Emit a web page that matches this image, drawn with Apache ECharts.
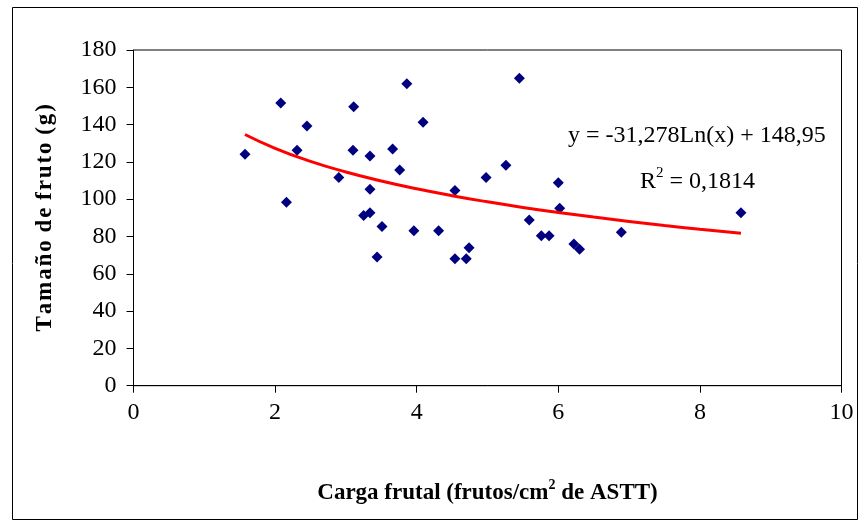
<!DOCTYPE html>
<html>
<head>
<meta charset="utf-8">
<script src="https://cdn.jsdelivr.net/npm/echarts@6/dist/echarts.min.js"></script>
<style>html,body{margin:0;padding:0;background:#fff;}#c{width:861px;height:523px;}</style>
</head>
<body>
<div id="c"></div>
<script>
// Scatter data: fruit load (x) and fruit size (y)
const cargaFrutal = [1.575, 2.08, 2.16, 2.31, 2.45, 2.90, 3.11, 3.10, 3.25, 3.34, 3.34, 3.34, 3.44, 3.51, 3.66, 3.76, 3.86, 3.96, 4.09, 4.31, 4.54, 4.54, 4.70, 4.74, 4.98, 5.26, 5.45, 5.59, 5.76, 5.87, 6.00, 6.02, 6.22, 6.30, 6.89, 8.58];
const tamanoFruto = [124.1, 151.6, 98.3, 126.2, 139.3, 111.7, 149.6, 126.2, 91.2, 92.8, 123.2, 105.3, 69.0, 85.3, 126.9, 115.7, 161.9, 83.1, 141.2, 83.1, 104.6, 68.1, 68.1, 74.0, 111.7, 118.2, 164.8, 88.8, 80.4, 80.4, 108.8, 95.1, 76.0, 73.1, 82.3, 92.8];
// Logarithmic trend line
const trendX = [1.575, 2, 2.5, 3, 3.5, 4, 4.5, 5, 5.5, 6, 6.5, 7, 7.5, 8, 8.58];
const trendY = [134.7, 127.3, 120.3, 114.6, 109.8, 105.6, 101.9, 98.6, 95.6, 92.9, 90.4, 88.1, 85.9, 83.9, 81.7];
const equationText = 'y = -31,278Ln(x) + 148,95';
const r2Label = 'R';
const r2Value = ' = 0,1814';
const xTitleA = 'Carga frutal (frutos/cm';
const xTitleB = ' de ASTT)';
const yTitle = 'T\u200Aa\u200Am\u200Aa\u200Añ\u200Ao\u200A d\u200Ae\u200A f\u200Ar\u200Au\u200At\u200Ao\u200A (\u200Ag\u200A)';

const FONT = '"Liberation Serif", "Times New Roman", serif';
const chart = echarts.init(document.getElementById('c'), null, {renderer: 'canvas'});
const scatterData = cargaFrutal.map((x, i) => [x, tamanoFruto[i]]);
const trendData = trendX.map((x, i) => [x, trendY[i]]);

chart.setOption({
  animation: false,
  backgroundColor: '#fff',
  grid: {left: 133.5, top: 50, right: 19.5, bottom: 137.3, show: true, borderColor: '#000', borderWidth: 1, backgroundColor: 'transparent'},
  xAxis: {
    type: 'value', min: 0, max: 10, interval: 2,
    splitLine: {show: false},
    axisLine: {show: true, onZero: false, lineStyle: {color: '#000', width: 1}},
    axisTick: {show: true, inside: false, length: 7, lineStyle: {color: '#000'}},
    axisLabel: {color: '#000', fontFamily: FONT, fontSize: 24, margin: 15},
    name: '{a|' + xTitleA + '}{s|2}{a|' + xTitleB + '}',
    nameLocation: 'middle', nameGap: 93,
    nameTextStyle: {
      rich: {
        a: {fontFamily: FONT, fontWeight: 'bold', fontSize: 23, color: '#000', verticalAlign: 'bottom', lineHeight: 26},
        s: {fontFamily: FONT, fontWeight: 'bold', fontSize: 14, color: '#000', verticalAlign: 'top', lineHeight: 26, padding: [0, 0, 10, 0]}
      }
    }
  },
  yAxis: {
    type: 'value', min: 0, max: 180, interval: 20,
    splitLine: {show: false},
    axisLine: {show: true, lineStyle: {color: '#000', width: 1}},
    axisTick: {show: true, inside: false, length: 7, lineStyle: {color: '#000'}},
    axisLabel: {color: '#000', fontFamily: FONT, fontSize: 24, margin: 17},
    name: yTitle, nameLocation: 'middle', nameGap: 77,
    nameTextStyle: {fontFamily: FONT, fontWeight: 'bold', fontSize: 23, color: '#000'}
  },
  series: [
    {
      type: 'scatter', data: scatterData, symbol: 'diamond', symbolSize: 11,
      itemStyle: {color: '#000080', opacity: 1}, z: 3
    },
    {
      type: 'line', data: trendData, smooth: true, showSymbol: false, symbol: 'none',
      lineStyle: {color: '#FF0000', width: 3}, z: 4
    }
  ],
  graphic: [
    {type: 'rect', shape: {x: 12.5, y: 7.5, width: 845, height: 512}, style: {fill: 'none', stroke: '#000', lineWidth: 1}, silent: true, z: -1},
    {type: 'text', left: 568, top: 124, style: {text: equationText, font: '24px ' + FONT, fill: '#000'}},
    {type: 'text', left: 640, top: 166, style: {
      text: '{a|' + r2Label + '}{s|2}{a|' + r2Value + '}',
      rich: {
        a: {fontFamily: FONT, fontSize: 24, fill: '#000', color: '#000', verticalAlign: 'bottom', lineHeight: 28},
        s: {fontFamily: FONT, fontSize: 15, fill: '#000', color: '#000', verticalAlign: 'top', lineHeight: 28, padding: [0, 0, 12, 0]}
      }
    }}
  ]
});
</script>
</body>
</html>
